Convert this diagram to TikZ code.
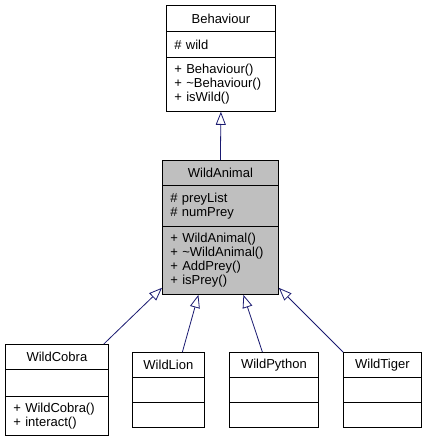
\documentclass[tikz,border=0pt]{standalone}
\usepackage{fontspec}
\setmainfont{Liberation Sans}
\usepackage{tikz}
\usetikzlibrary{arrows.meta}
\definecolor{edgeblue}{HTML}{191970}
\definecolor{clsgray}{HTML}{BFBFBF}
\tikzset{
  clspart/.style={draw=black, line width=0.8pt, anchor=north west, inner xsep=8pt,
                  inner ysep=0pt, align=left, font=\fontsize{13}{14}\selectfont},
  clstitle/.style={draw=black, line width=0.8pt, anchor=north west, inner sep=0pt,
                   font=\fontsize{13}{14}\selectfont},
  inherit/.style={-{Triangle[open, length=13pt, width=10pt]}, draw=edgeblue, line width=0.8pt},
}

\begin{document}
\begin{tikzpicture}[x=1pt, y=-1pt]
  \useasboundingbox (0,0) rectangle (426,441);
  % base class
  \node[clstitle, minimum width=109pt, minimum height=26pt] (beh-t) at (166,5) {Behaviour};
  \node[clspart, text width=93pt, minimum height=26pt] (beh-a) at (166,31) {\# wild};
  \node[clspart, text width=93pt, minimum height=54pt] (beh-m) at (166,57)
    {+ Behaviour()\\+ \textasciitilde Behaviour()\\+ isWild()};
  % middle class (highlighted)
  \node[clstitle, fill=clsgray, minimum width=116pt, minimum height=25pt] (wa-t) at (162,160) {WildAnimal};
  \node[clspart, fill=clsgray, text width=100pt, minimum height=41pt] (wa-a) at (162,185)
    {\# preyList\\\# numPrey};
  \node[clspart, fill=clsgray, text width=100pt, minimum height=68pt] (wa-m) at (162,226)
    {+ WildAnimal()\\+ \textasciitilde WildAnimal()\\+ AddPrey()\\+ isPrey()};
  % derived classes
  \node[clstitle, minimum width=103pt, minimum height=25pt] (cobra-t) at (5,344) {WildCobra};
  \node[clspart, text width=87pt, minimum height=27pt] (cobra-a) at (5,369) {};
  \node[clspart, text width=87pt, minimum height=39pt] (cobra-m) at (5,396)
    {+ WildCobra()\\+ interact()};
  \node[clstitle, minimum width=72pt, minimum height=25pt] (lion-t) at (132,352) {WildLion};
  \node[clspart, text width=56pt, minimum height=25pt] (lion-a) at (132,377) {};
  \node[clspart, text width=56pt, minimum height=25pt] (lion-m) at (132,402) {};
  \node[clstitle, minimum width=89pt, minimum height=25pt] (python-t) at (229,352) {WildPython};
  \node[clspart, text width=73pt, minimum height=25pt] (python-a) at (229,377) {};
  \node[clspart, text width=73pt, minimum height=25pt] (python-m) at (229,402) {};
  \node[clstitle, minimum width=78pt, minimum height=25pt] (tiger-t) at (343,352) {WildTiger};
  \node[clspart, text width=62pt, minimum height=25pt] (tiger-a) at (343,377) {};
  \node[clspart, text width=62pt, minimum height=25pt] (tiger-m) at (343,402) {};
  % inheritance
  \draw[inherit] (wa-t.north) -- (beh-m.south);
  \draw[inherit] ([xshift=-5pt]cobra-t.north east) -- ([yshift=7pt]wa-m.south west);
  \draw[inherit] ([xshift=14pt]lion-t.north) -- ([xshift=-22pt]wa-m.south);
  \draw[inherit] ([xshift=-11.5pt]python-t.north) -- ([xshift=23pt]wa-m.south);
  \draw[inherit] (tiger-t.north west) -- ([yshift=7pt]wa-m.south east);
\end{tikzpicture}
\end{document}
